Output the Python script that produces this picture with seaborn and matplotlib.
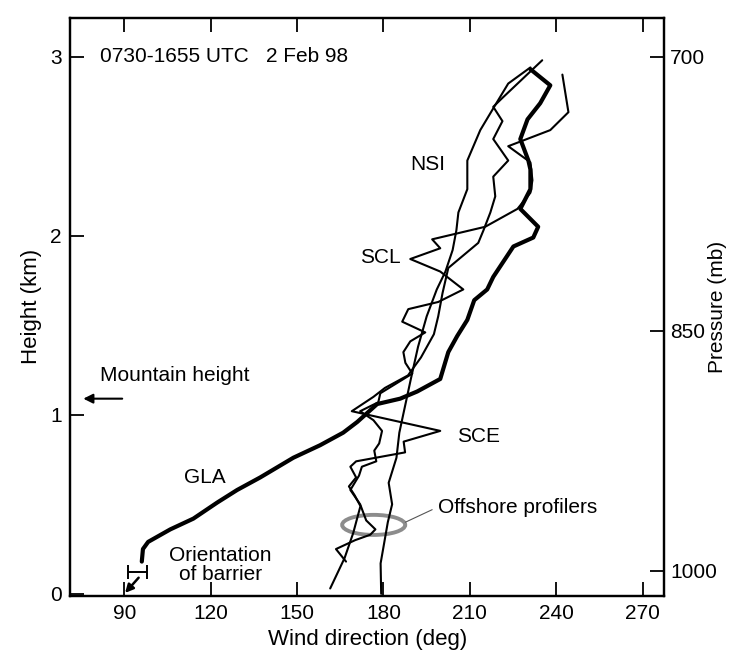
import numpy as np
import pandas as pd
import matplotlib
matplotlib.use("Agg")
import matplotlib.pyplot as plt
from matplotlib.patches import Ellipse
import seaborn as sns

sns.set_theme(style="ticks")
plt.rcParams["font.family"] = ["Liberation Sans", "DejaVu Sans"]
plt.rcParams.update({"text.color": "black", "axes.labelcolor": "black",
                     "xtick.color": "black", "ytick.color": "black",
                     "axes.edgecolor": "black"})

# ----------------------------------------------------------------------
# data: wind direction (deg) vs height (km)
# ----------------------------------------------------------------------
gla_dir = [96.1, 96.5, 98.3, 106, 114, 122.3, 129.2, 137.2, 148.7, 158, 166, 170.9,
           177.8, 185.8, 191.7, 199.7, 202.5, 205.6, 209.1, 211.5, 216, 218.1, 225.1,
           232, 233.7, 227.5, 231, 231, 230.3, 227.5, 230, 234.4, 237.9, 231]
gla_hgt = [0.18, 0.25, 0.29, 0.36, 0.42, 0.51, 0.58, 0.65, 0.76, 0.83, 0.90, 0.96,
           1.06, 1.09, 1.13, 1.20, 1.35, 1.44, 1.53, 1.64, 1.70, 1.77, 1.94,
           1.99, 2.05, 2.15, 2.26, 2.37, 2.42, 2.54, 2.65, 2.74, 2.84, 2.93]

nsi_dir = [179.2, 179.0, 181.5, 183.0, 181.8, 184.5, 185.5, 187.5, 189.5, 192.0, 195.0,
           198.5, 201.5, 204.0, 205.3, 206.0, 209.1, 209.1, 213.6, 218.8, 223.3, 231.0]
nsi_hgt = [0.00, 0.17, 0.40, 0.50, 0.62, 0.76, 0.90, 1.05, 1.20, 1.38, 1.55,
           1.70, 1.80, 1.92, 2.03, 2.13, 2.26, 2.42, 2.59, 2.73, 2.85, 2.94]

scl_dir = [242.1, 244.2, 237.9, 223.3, 231.0, 231.7, 231.0, 226.5, 215.3, 196.9, 199.7,
           189.3, 199.7, 207.7, 199.0, 188.6, 186.5, 194.5, 189.3, 186.9, 187.6, 190.0,
           178.9, 178.2, 171.9, 176.5, 179.5, 178.5, 176.8, 177.5, 172.5, 171.5, 168.5,
           171.9, 174.0, 177.2, 175.4, 170.2, 163.5, 167.0]
scl_hgt = [2.90, 2.69, 2.59, 2.50, 2.41, 2.31, 2.24, 2.15, 2.05, 1.98, 1.93,
           1.87, 1.80, 1.70, 1.63, 1.59, 1.52, 1.46, 1.41, 1.35, 1.29, 1.23,
           1.12, 1.07, 1.02, 0.97, 0.91, 0.84, 0.80, 0.74, 0.71, 0.66, 0.58,
           0.50, 0.41, 0.36, 0.33, 0.30, 0.25, 0.18]

sce_dir = [161.5, 166.5, 169.5, 172.0, 170.0, 168.0, 170.5, 168.5, 170.5, 187.5, 187.0,
           199.7, 169.0, 176.5, 180.5, 188.5, 193.0, 197.5, 199.0, 200.5, 202.5, 212.9,
           214.7, 217.1, 218.8, 218.1, 223.3, 218.1, 221.3, 218.1, 221.3, 235.1]
sce_hgt = [0.03, 0.20, 0.34, 0.49, 0.55, 0.60, 0.65, 0.71, 0.74, 0.79, 0.85,
           0.91, 1.02, 1.10, 1.15, 1.22, 1.32, 1.45, 1.55, 1.68, 1.82, 1.96,
           2.03, 2.13, 2.22, 2.33, 2.42, 2.54, 2.64, 2.72, 2.77, 2.98]

x_ticks = [90, 120, 150, 180, 210, 240, 270]
y_ticks = [0, 1, 2, 3]
p_labels = ["700", "850", "1000"]
p_heights = [3.0, 1.47, 0.13]

# ----------------------------------------------------------------------
# figure
# ----------------------------------------------------------------------
fig = plt.figure(figsize=(7.39, 6.54), dpi=100)
ax = fig.add_axes([0.095, 0.089, 0.804, 0.884])

for d, h, lw in [(nsi_dir, nsi_hgt, 1.5), (scl_dir, scl_hgt, 1.5),
                 (sce_dir, sce_hgt, 1.5), (gla_dir, gla_hgt, 3.0)]:
    sns.lineplot(x=d, y=h, sort=False, estimator=None, color="black", lw=lw, ax=ax)

# short lower piece pointing at the barrier orientation
ax.annotate("", xy=(90.3, 0.005), xytext=(95.0, 0.09),
            arrowprops=dict(arrowstyle="-|>", color="black", lw=1.8, mutation_scale=12,
                            shrinkA=0, shrinkB=0))
ax.errorbar([94.7], [0.12], xerr=[[3.3], [3.3]], fmt="none", ecolor="black",
            elinewidth=1.4, capsize=5, capthick=1.4)

# offshore profilers ellipse
ax.add_patch(Ellipse((176.6, 0.385), 21.9, 0.112, fill=False, ec="#8c8c8c", lw=2.8))
ax.plot([187.6, 196.9], [0.40, 0.47], color="#555555", lw=0.8)
ax.text(199, 0.48, "Offshore profilers", fontsize=15, va="center", ha="left")

# mountain height arrow
ax.annotate("", xy=(75.8, 1.09), xytext=(89.3, 1.09),
            arrowprops=dict(arrowstyle="-|>", color="black", lw=1.5, mutation_scale=14,
                            shrinkA=0, shrinkB=0))
ax.text(81.7, 1.22, "Mountain height", fontsize=15, va="center", ha="left")

ax.text(81.7, 3.0, "0730-1655 UTC   2 Feb 98", fontsize=15, va="center", ha="left")
ax.text(195.5, 2.40, "NSI", fontsize=15, va="center", ha="center")
ax.text(178.9, 1.88, "SCL", fontsize=15, va="center", ha="center")
ax.text(212.9, 0.88, "SCE", fontsize=15, va="center", ha="center")
ax.text(118.1, 0.65, "GLA", fontsize=15, va="center", ha="center")
ax.text(123.3, 0.16, "Orientation\nof barrier", fontsize=15, va="center", ha="center",
        linespacing=1.0)

ax.set_xlim(71.25, 277.5)
ax.set_ylim(-0.011, 3.218)
ax.set_xticks(x_ticks)
ax.set_yticks(y_ticks)
ax.tick_params(direction="in", length=10, width=1.3, labelsize=15, top=True,
               left=True, right=False, pad=6)
ax.set_xlabel("Wind direction (deg)", fontsize=16, labelpad=4)
ax.set_ylabel("Height (km)", fontsize=16, labelpad=6)
for s in ax.spines.values():
    s.set_visible(True)
    s.set_linewidth(1.6)

ax2 = ax.twinx()
ax2.set_ylim(ax.get_ylim())
ax2.set_yticks(p_heights)
ax2.set_yticklabels(p_labels)
ax2.tick_params(direction="in", length=10, width=1.3, labelsize=15, pad=4)
ax2.set_ylabel("Pressure (mb)", fontsize=15, va="center")
ax2.yaxis.set_label_coords(1.09, 0.5)
for s in ax2.spines.values():
    s.set_linewidth(1.6)

fig.savefig("out.png", dpi=100)
